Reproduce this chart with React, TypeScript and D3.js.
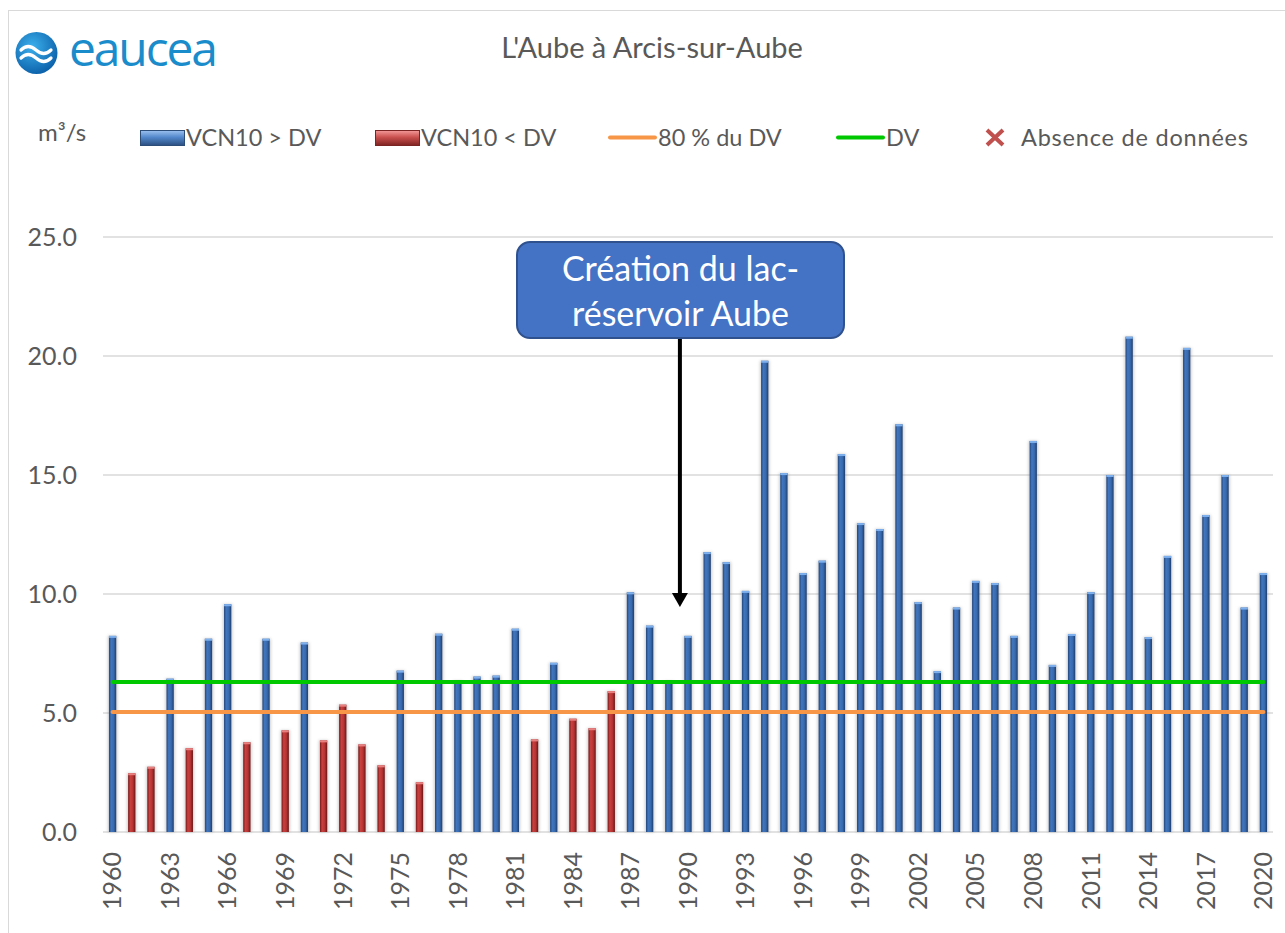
import * as d3 from "d3";

// VCN10 annuel (m³/s), Aube à Arcis-sur-Aube
const years = d3.range(1960, 2021);
const vcn10 = [
  8.24, 2.47, 2.74, 6.44, 3.52, 8.12, 9.57, 3.77, 8.12, 4.27,
  7.96, 3.85, 5.35, 3.68, 2.8, 6.78, 2.09, 8.33, 6.35, 6.53,
  6.57, 8.54, 3.89, 7.11, 4.76, 4.36, 5.92, 10.07, 8.67, 6.33,
  8.24, 11.76, 11.34, 10.13, 19.8, 15.08, 10.88, 11.4, 15.88, 12.98,
  12.73, 17.13, 9.66, 6.76, 9.43, 10.55, 10.46, 8.24, 16.43, 7.02,
  8.32, 10.08, 15.0, 20.81, 8.19, 11.6, 20.34, 13.32, 15.0, 9.43,
  10.88,
];
const DV = 6.3;
const DV80 = DV * 0.8;
const yTicks = [0, 5, 10, 15, 20, 25];
const xTickYears = years.filter((y) => (y - 1960) % 3 === 0);
const legendItems = ["VCN10 > DV", "VCN10 < DV", "80 % du DV", "DV", "Absence de données"];

const W = 1285;
const H = 933;
const FONT = "Lato, 'Open Sans', sans-serif";
const TXT = "#595959";

export default function App() {
  const x = d3
    .scaleBand<number>()
    .domain(years)
    .range([103, 1273])
    .paddingInner(0.62)
    .paddingOuter(0.31);
  const y = d3.scaleLinear().domain([0, 25]).range([832, 237]);
  const bw = x.bandwidth();
  const cx = (yr: number) => (x(yr) ?? 0) + bw / 2;

  const lineX0 = cx(years[0]);
  const lineX1 = cx(years[years.length - 1]);
  const arrowX = (cx(1989) + cx(1990)) / 2 + 1.5;

  return (
    <svg
      width={W}
      height={H}
      style={{ position: "absolute", left: 0, top: 0, background: "#fff" }}
      fontFamily={FONT}
    >
      <defs>
        <linearGradient id="blueBar" x1="0" x2="1" y1="0" y2="0">
          <stop offset="0" stopColor="#23457a" />
          <stop offset="0.3" stopColor="#4176be" />
          <stop offset="0.65" stopColor="#386aae" />
          <stop offset="1" stopColor="#1f3e6e" />
        </linearGradient>
        <linearGradient id="redBar" x1="0" x2="1" y1="0" y2="0">
          <stop offset="0" stopColor="#751818" />
          <stop offset="0.3" stopColor="#c9413f" />
          <stop offset="0.65" stopColor="#b63433" />
          <stop offset="1" stopColor="#6a1515" />
        </linearGradient>
        <linearGradient id="blueSw" x1="0" x2="0" y1="0" y2="1">
          <stop offset="0" stopColor="#9cc2f0" />
          <stop offset="0.45" stopColor="#5388cc" />
          <stop offset="1" stopColor="#2b4f80" />
        </linearGradient>
        <linearGradient id="redSw" x1="0" x2="0" y1="0" y2="1">
          <stop offset="0" stopColor="#f39a9a" />
          <stop offset="0.45" stopColor="#c9504e" />
          <stop offset="1" stopColor="#7e2322" />
        </linearGradient>
        <radialGradient id="logoG" cx="0.4" cy="0.35" r="0.7">
          <stop offset="0" stopColor="#3cb0ec" />
          <stop offset="1" stopColor="#0a5ea8" />
        </radialGradient>
        <filter id="shadow" x="-100%" y="-5%" width="300%" height="110%">
          <feGaussianBlur stdDeviation="1.5" />
        </filter>
      </defs>

      {/* chart frame */}
      <rect x={8.5} y={10.5} width={W} height={H} fill="none" stroke="#d9d9d9" />

      {/* logo */}
      <circle cx={36.5} cy={53} r={21} fill="url(#logoG)" />
      <path
        d="M21,50 q7,-7 15,0 t15,0 M21,58 q7,-7 15,0 t15,0"
        fill="none"
        stroke="#fff"
        strokeWidth={3.2}
        strokeLinecap="round"
      />
      <text x={69} y={66} fontSize={48} fill="#1a8ccb" fontFamily="'Open Sans', sans-serif" textLength={149}>
        eaucea
      </text>

      {/* title */}
      <text x={652} y={58} fontSize={29} fill={TXT} textAnchor="middle">
        L'Aube à Arcis-sur-Aube
      </text>

      {/* unit + legend */}
      <text x={38} y={141} fontSize={24} fill={TXT}>
        m³/s
      </text>
      <g fontSize={23.5} fill={TXT}>
        <rect x={140.5} y={130.5} width={44} height={15} fill="url(#blueSw)" stroke="#2b4d78" />
        <text x={186} y={146}>{legendItems[0]}</text>
        <rect x={375.5} y={130.5} width={44} height={15} fill="url(#redSw)" stroke="#7a2524" />
        <text x={421} y={146}>{legendItems[1]}</text>
        <line x1={610} x2={655} y1={137.5} y2={137.5} stroke="#f79646" strokeWidth={4} strokeLinecap="round" />
        <text x={658} y={146}>{legendItems[2]}</text>
        <line x1={838} x2={883} y1={137.5} y2={137.5} stroke="#00c800" strokeWidth={4} strokeLinecap="round" />
        <text x={886} y={146}>{legendItems[3]}</text>
        <path
          d="M987,130 L1003,145 M1003,130 L987,145"
          stroke="#c0504d"
          strokeWidth={4}
        />
        <text x={1021} y={146} textLength={227}>{legendItems[4]}</text>
      </g>

      {/* gridlines */}
      {yTicks.map((t) => (
        <line key={t} x1={103} x2={1273} y1={y(t)} y2={y(t)} stroke="#d9d9d9" strokeWidth={1.5} />
      ))}

      {/* y labels */}
      {yTicks.map((t) => (
        <text key={t} x={77} y={y(t)} dy="0.35em" textAnchor="end" fontSize={25} fill={TXT}>
          {t.toFixed(1)}
        </text>
      ))}

      {/* bars */}
      {years.map((yr, i) => {
        const v = vcn10[i];
        const above = v >= DV;
        const bx = x(yr) ?? 0;
        const top = y(v);
        const h = y(0) - top;
        return (
          <g key={yr}>
            <rect x={bx - 1} y={top} width={bw + 2} height={h} fill="#888" opacity={0.45} filter="url(#shadow)" />
            <rect x={bx} y={top} width={bw} height={h} fill={above ? "url(#blueBar)" : "url(#redBar)"} />
            <rect x={bx} y={top} width={bw} height={2} fill={above ? "#7fb0ee" : "#e88080"} />
          </g>
        );
      })}

      {/* threshold lines */}
      <line x1={lineX0} x2={lineX1} y1={y(DV80)} y2={y(DV80)} stroke="#f79646" strokeWidth={4} strokeLinecap="round" />
      <line x1={lineX0} x2={lineX1} y1={y(DV)} y2={y(DV)} stroke="#00c800" strokeWidth={4} strokeLinecap="round" />

      {/* x labels */}
      {xTickYears.map((yr) => (
        <text
          key={yr}
          transform={`translate(${cx(yr)},852) rotate(-90)`}
          textAnchor="end"
          dy="0.35em"
          fontSize={25}
          fill={TXT}
        >
          {yr}
        </text>
      ))}

      {/* annotation */}
      <line x1={arrowX} x2={arrowX} y1={338} y2={596} stroke="#000" strokeWidth={4} />
      <path d={`M${arrowX - 8},593 L${arrowX + 8},593 L${arrowX},607 Z`} fill="#000" />
      <rect x={517} y={242} width={327} height={96} rx={13} fill="#4472c4" stroke="#2f528f" strokeWidth={2} />
      <g fontSize={34} fill="#fff" textAnchor="middle">
        <text x={680.5} y={281}>Création du lac-</text>
        <text x={680.5} y={326}>réservoir Aube</text>
      </g>
    </svg>
  );
}
